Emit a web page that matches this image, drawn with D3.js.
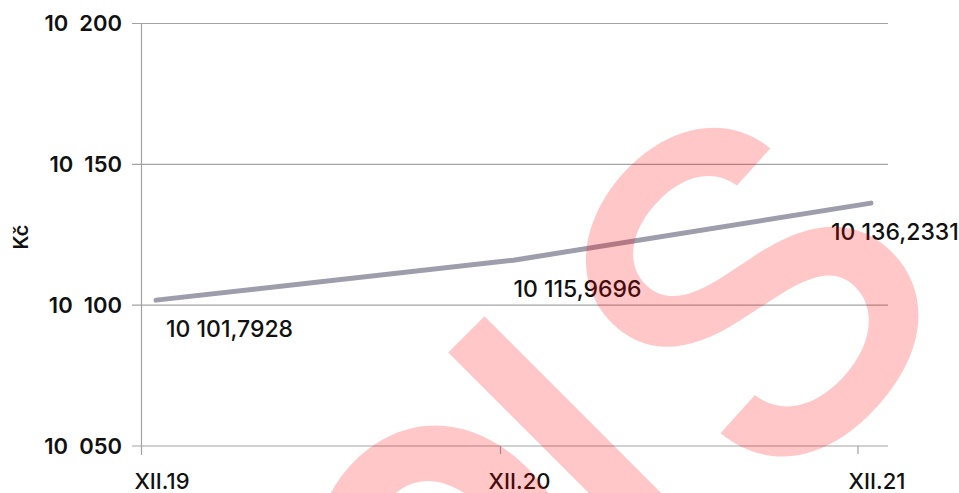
<!DOCTYPE html>
<html>
<head>
<meta charset="utf-8">
<script src="https://cdn.jsdelivr.net/npm/d3@7"></script>
<style>
  body { margin: 0; background: #fff; }
  svg { display: block; font-family: Inter, "Noto Sans", sans-serif; }
</style>
</head>
<body>
<svg></svg>
<script>
const width = 959;
const height = 493;

// data
const periods = ["XII.19", "XII.20", "XII.21"];
const values = [10101.7928, 10115.9696, 10136.2331];
const valueLabels = ["10 101,7928", "10 115,9696", "10 136,2331"];
const yTicks = [10050, 10100, 10150, 10200];
const yTickLabels = ["10\u2002050", "10\u2002100", "10\u2002150", "10\u2002200"];

let svg = d3.select("svg").attr("width", width).attr("height", height);

let x = d3.scalePoint().domain(periods).range([156, 871]);
let y = d3.scaleLinear().domain([10050, 10200]).range([446, 23.5]);

// grid lines
let grid = svg.append("g");
grid.selectAll("line")
    .data(yTicks)
    .join("line")
    .attr("x1", 132)
    .attr("x2", 888)
    .attr("y1", d => y(d))
    .attr("y2", d => y(d))
    .style("stroke", "#a3a3a3")
    .style("stroke-width", 1.2);

// y axis line
svg.append("line")
    .attr("x1", 141.5).attr("x2", 141.5)
    .attr("y1", y(10200)).attr("y2", 455)
    .style("stroke", "#a3a3a3")
    .style("stroke-width", 1.2);

// x ticks
svg.append("g").selectAll("line")
    .data(periods.slice(1))
    .join("line")
    .attr("x1", d => x(d) - 13)
    .attr("x2", d => x(d) - 13)
    .attr("y1", y(10050))
    .attr("y2", 454)
    .style("stroke", "#a3a3a3")
    .style("stroke-width", 1.2);

// y tick labels
svg.append("g").selectAll("text")
    .data(yTicks)
    .join("text")
    .attr("x", 122)
    .attr("y", d => y(d))
    .attr("dy", "0.36em")
    .attr("text-anchor", "end")
    .style("font-size", "22px")
    .style("font-weight", 600)
    .style("fill", "#111")
    .text((d, i) => yTickLabels[i]);

// x labels
svg.append("g").selectAll("text")
    .data(periods)
    .join("text")
    .attr("x", d => x(d) + 6)
    .attr("y", 489)
    .attr("text-anchor", "middle")
    .style("font-size", "22px")
    .style("font-weight", 500)
    .style("fill", "#111")
    .text(d => d);

// axis title
svg.append("text")
    .attr("transform", "translate(28,237) rotate(-90)")
    .attr("text-anchor", "middle")
    .style("font-size", "20px")
    .style("font-weight", 600)
    .style("fill", "#111")
    .text("Kč");

// line
let line = d3.line()
    .x((d, i) => x(periods[i]))
    .y(d => y(d));

svg.append("path")
    .datum(values)
    .attr("d", line)
    .style("fill", "none")
    .style("stroke", "#9e9dab")
    .style("stroke-width", 5)
    .style("stroke-linecap", "round");

// value labels
const labelDx = [10, 0, -40];
svg.append("g").selectAll("text")
    .data(values)
    .join("text")
    .attr("x", (d, i) => x(periods[i]) + labelDx[i])
    .attr("y", d => y(d) + 37)
    .style("font-size", "23px")
    .style("font-weight", 500)
    .style("fill", "#111")
    .text((d, i) => valueLabels[i]);

// watermark
let mark = svg.append("g")
    .style("fill", "rgb(255,0,0)")
    .style("fill-opacity", 0.22)
    .style("font-family", "Inter, sans-serif");

mark.append("text")
    .attr("transform", "translate(750,292) rotate(-48)")
    .attr("text-anchor", "middle")
    .attr("dy", "0.36em")
    .style("font-size", "460px")
    .style("font-weight", 500)
    .text("S");

mark.append("text")
    .attr("transform", "translate(703,571) rotate(-45)")
    .attr("text-anchor", "middle")
    .style("font-size", "460px")
    .style("font-weight", 500)
    .text("I");

mark.append("text")
    .attr("transform", "translate(445,552) rotate(-45)")
    .attr("text-anchor", "middle")
    .attr("dy", "0.36em")
    .style("font-size", "340px")
    .style("font-weight", 800)
    .text("O");
</script>
</body>
</html>
